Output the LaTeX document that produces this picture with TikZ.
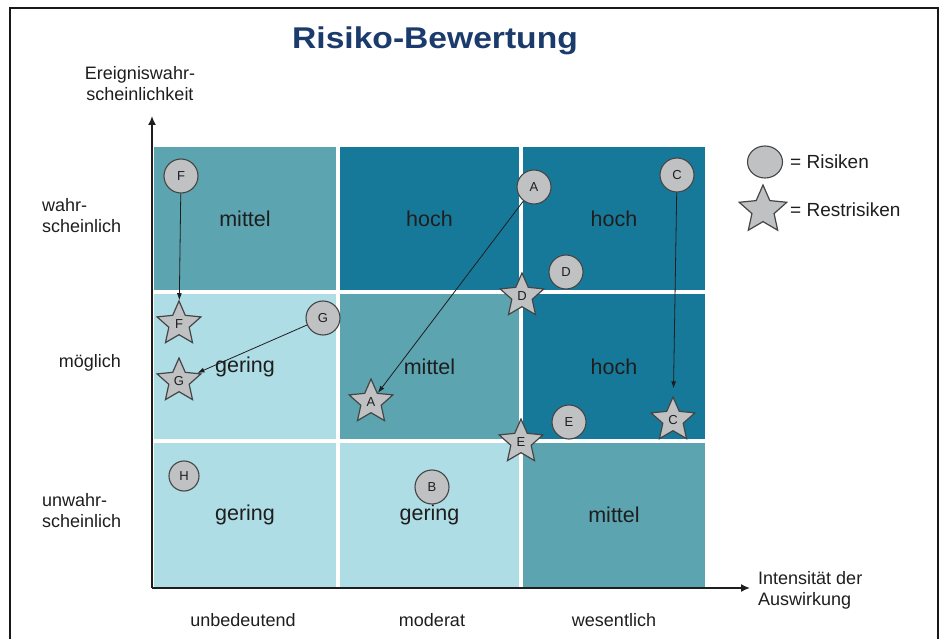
\documentclass[tikz,border=0pt]{standalone}
\usepackage{fontspec}
\setmainfont{Liberation Sans}
\usetikzlibrary{shapes.geometric,arrows.meta}

\definecolor{hochc}{HTML}{17799A}
\definecolor{mittelc}{HTML}{5BA4B0}
\definecolor{geringc}{HTML}{AEDDE5}
\definecolor{titlec}{HTML}{1B3B6C}
\definecolor{markfill}{HTML}{BFC1C3}
\definecolor{markline}{HTML}{454545}
\definecolor{ink}{HTML}{1E1E1E}

\begin{document}
\begin{tikzpicture}[x=1pt,y=-1pt,
  cell/.style={rectangle, inner sep=0pt, minimum width=182pt, text=ink,
    font=\fontsize{21.5}{24}\selectfont},
  risk/.style={circle, draw=markline, line width=1.1pt, fill=markfill,
    minimum size=34pt, inner sep=0pt, text=ink, font=\fontsize{13}{14}\selectfont},
  rest/.style={star, star points=5, star point ratio=2.15, draw=markline,
    line width=1.2pt, fill=markfill, minimum size=46pt, inner sep=0pt,
    text=ink, font=\fontsize{13}{14}\selectfont},
  move/.style={-{Latex[length=7pt,width=5pt]}, line width=0.8pt, draw=ink},
  axis/.style={-{Latex[length=9pt,width=8pt]}, line width=1.6pt, draw=ink},
  lbl/.style={text=ink, font=\fontsize{18}{21}\selectfont, inner sep=0pt},
  frame/.style={line width=2.5pt, draw=black!90}]

\useasboundingbox (0,0) rectangle (943,639);
\fill[white] (0,0) rectangle (943,639);

% page frame (open at the bottom)
\draw[frame] (10,639) -- (10,8) -- (938,8) -- (938,639);

% title
\node[text=titlec, font=\bfseries\fontsize{30}{34}\selectfont] (title) at (435,41)
  {\scalebox{1.12}[1]{Risiko-Bewertung}};

% risk matrix cells
\node[cell, fill=mittelc, minimum height=143pt] (c11) at (245,218.5) {mittel};
\node[cell, fill=hochc,   minimum height=143pt, minimum width=179pt] (c12) at (429.5,218.5) {hoch};
\node[cell, fill=hochc,   minimum height=143pt] (c13) at (614,218.5) {hoch};
\node[cell, fill=geringc, minimum height=145pt] (c21) at (245,366.5) {gering};
\node[cell, fill=mittelc, minimum height=145pt, minimum width=179pt] (c22) at (429.5,366.5) {mittel};
\node[cell, fill=hochc,   minimum height=145pt] (c23) at (614,366.5) {hoch};
\node[cell, fill=geringc, minimum height=144pt] (c31) at (245,515) {gering};
\node[cell, fill=geringc, minimum height=144pt, minimum width=179pt] (c32) at (429.5,515) {gering};
\node[cell, fill=mittelc, minimum height=144pt] (c33) at (614,515) {mittel};

% axes
\coordinate (orig) at (152,588);
\coordinate (ytip) at (152,116);
\coordinate (xtip) at (750,588);
\draw[axis] (orig) -- (ytip);
\draw[axis] (orig) -- (xtip);

% axis captions
\node[lbl, align=center] (ycap) at (140,84) {Ereigniswahr-\\scheinlichkeit};
\node[lbl, align=left, anchor=west] (xcap) at (758,590) {Intensität der\\Auswirkung};
\node[lbl, align=left, anchor=west] (l1) at (42,216) {wahr-\\scheinlich};
\node[lbl] (l2) at (90,363) {möglich};
\node[lbl, align=left, anchor=west] (l3) at (42,511) {unwahr-\\scheinlich};
\node[lbl] (b1) at (243,620) {unbedeutend};
\node[lbl] (b2) at (432,620) {moderat};
\node[lbl] (b3) at (614,620) {wesentlich};

% risks
\node[risk] (F1) at (181,176) {F};
\node[risk] (A1) at (534,187) {A};
\node[risk] (C1) at (677,175) {C};
\node[risk] (D1) at (566,272) {D};
\node[risk] (E1) at (569,422) {E};
\node[risk] (G1) at (323,318) {G};
\node[risk, minimum size=30pt] (H1) at (184,476) {H};
\node[risk] (B1) at (432,487) {B};

% residual risks
\node[rest] (F2) at (179,324) {F};
\node[rest] (G2) at (179,381) {G};
\node[rest] (A2) at (371,402) {A};
\node[rest] (D2) at (522,296) {D};
\node[rest] (E2) at (521,442) {E};
\node[rest] (C2) at (673,420) {C};

% risk reduction moves
\draw[move] (F1) -- (F2);
\draw[move] (A1) -- (A2);
\draw[move] (G1) -- (G2);
\draw[move, shorten >=8pt] (C1) -- (C2);

% legend
\node[risk, ellipse, minimum width=35pt, minimum height=32pt] (legR) at (765,162) {};
\node[anchor=west, text=ink, font=\fontsize{19}{22}\selectfont, inner sep=0pt] (legRt) at (790,162) {= Risiken};
\node[rest, minimum size=50pt] (legS) at (763,210) {};
\node[anchor=west, text=ink, font=\fontsize{19}{22}\selectfont, inner sep=0pt] (legSt) at (790,210) {= Restrisiken};

\end{tikzpicture}
\end{document}
